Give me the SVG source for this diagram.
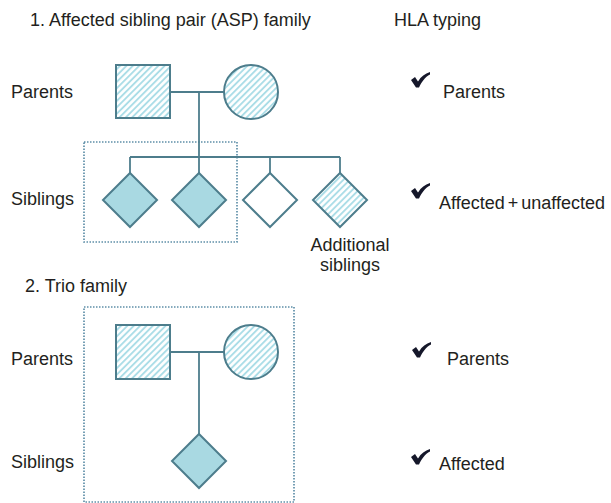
<svg xmlns="http://www.w3.org/2000/svg" width="611" height="503" viewBox="0 0 611 503">
<defs>
<pattern id="hatch" width="4.5" height="4.5" patternUnits="userSpaceOnUse" patternTransform="rotate(45)">
<rect width="4.5" height="4.5" fill="#ffffff"/>
<line x1="1" y1="0" x2="1" y2="4.5" stroke="#a6dbe6" stroke-width="1.8"/>
</pattern>
<path id="chk" d="M0,8 L4,5 L7,9.5 C10,4.5 14,1.5 19,0 L19,2.5 C14,5 10.5,10 8,15.5 L5,15.5 Z"/>
<style>
text{font-family:"Liberation Sans",Arial,sans-serif;font-size:18px;fill:#231f20}
.sym{stroke:#4d7d8c;stroke-width:2}
.hatch{fill:url(#hatch)}
.solid{fill:#a9d9e2}
.empty{fill:#ffffff}
.con{stroke:#4d7d8c;stroke-width:1.8;fill:none}
.box{fill:none;stroke:#5f8fa8;stroke-width:1.7;stroke-dasharray:1.5 1.5}
.check{fill:#15172a}
</style>
</defs>
<rect width="611" height="503" fill="#ffffff"/>

<g id="titles">
<text x="30" y="26">1. Affected sibling pair (ASP) family</text>
<text x="394" y="26">HLA typing</text>
<text x="25" y="292">2. Trio family</text>
</g>

<g id="labels-left">
<text x="11" y="98">Parents</text>
<text x="11" y="205">Siblings</text>
<text x="11" y="365">Parents</text>
<text x="11" y="468">Siblings</text>
</g>

<g id="boxes">
<rect class="box" x="84" y="142" width="153" height="100"/>
<rect class="box" x="84" y="307" width="210" height="195"/>
</g>

<g id="connectors">
<line class="con" x1="170" y1="92" x2="224" y2="92"/>
<line class="con" x1="199" y1="92" x2="199" y2="157"/>
<line class="con" x1="130" y1="157" x2="340" y2="157"/>
<line class="con" x1="130" y1="157" x2="130" y2="173"/>
<line class="con" x1="199" y1="157" x2="199" y2="173"/>
<line class="con" x1="270" y1="157" x2="270" y2="173"/>
<line class="con" x1="340" y1="157" x2="340" y2="173"/>
<line class="con" x1="170" y1="352" x2="224" y2="352"/>
<line class="con" x1="199" y1="352" x2="199" y2="434"/>
</g>

<g id="asp-father"><rect class="sym hatch" x="116" y="65" width="54" height="53"/></g>
<g id="asp-mother"><circle class="sym hatch" cx="251" cy="92" r="27"/></g>
<g id="asp-sib1"><polygon class="sym solid" points="130,173 157,200 130,227 103,200"/></g>
<g id="asp-sib2"><polygon class="sym solid" points="199,173 226,200 199,227 172,200"/></g>
<g id="asp-sib3"><polygon class="sym empty" points="270,173 297,200 270,227 243,200"/></g>
<g id="asp-sib4"><polygon class="sym hatch" points="340,173 367,200 340,227 313,200"/></g>
<g id="additional-label">
<text x="350" y="251" text-anchor="middle">Additional</text>
<text x="350" y="271" text-anchor="middle">siblings</text>
</g>

<g id="trio-father"><rect class="sym hatch" x="116" y="325" width="54" height="54"/></g>
<g id="trio-mother"><circle class="sym hatch" cx="251" cy="352" r="27"/></g>
<g id="trio-child"><polygon class="sym solid" points="199,434 226,461 199,488 172,461"/></g>

<g id="hla-parents1">
<use href="#chk" class="check" x="411" y="72"/>
<text x="443" y="98">Parents</text>
</g>
<g id="hla-siblings1">
<use href="#chk" class="check" x="411" y="183"/>
<text x="439" y="209">Affected<tspan dx="3">+</tspan><tspan dx="3">unaffected</tspan></text>
</g>
<g id="hla-parents2">
<use href="#chk" class="check" x="412" y="342"/>
<text x="447" y="365">Parents</text>
</g>
<g id="hla-affected2">
<use href="#chk" class="check" x="411" y="449"/>
<text x="439" y="470">Affected</text>
</g>
</svg>
